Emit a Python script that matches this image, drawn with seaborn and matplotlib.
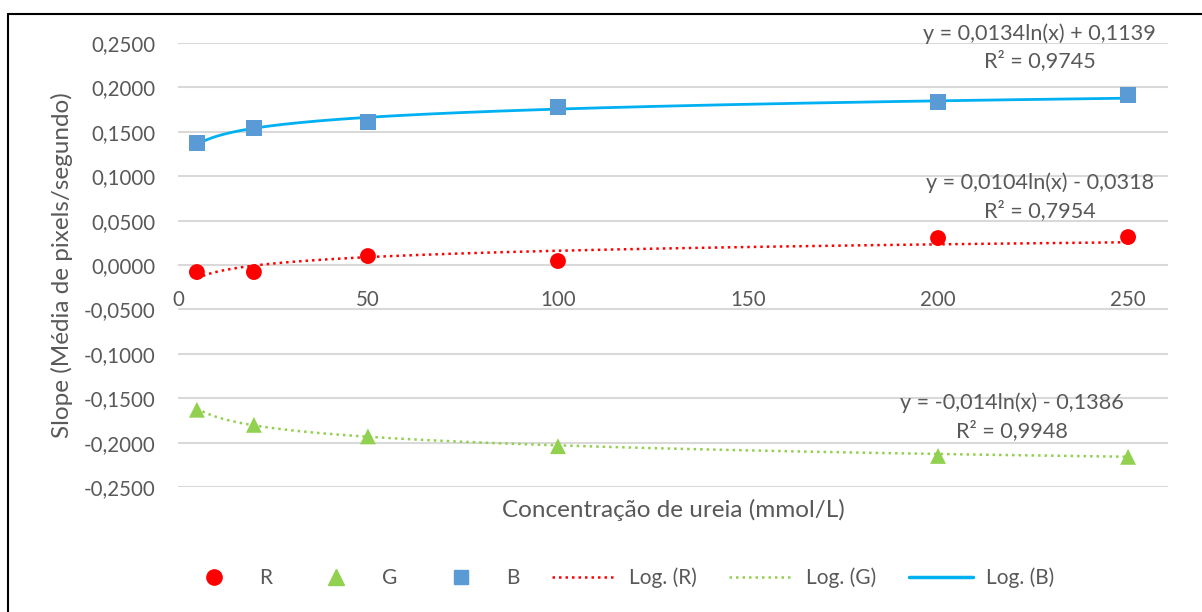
import numpy as np
import pandas as pd
import seaborn as sns
import matplotlib.pyplot as plt
from matplotlib.lines import Line2D

sns.set_theme(style="white")
plt.rcParams['font.family'] = ['Lato', 'DejaVu Sans']

# Urea concentration (mmol/L)
conc = [5, 20, 50, 100, 200, 250]
# Mean slope (pixels/second) per colour channel
slope_r = [-0.0079, -0.0079, 0.0101, 0.0045, 0.0304, 0.0315]
slope_g = [-0.1630, -0.1800, -0.1930, -0.2040, -0.2150, -0.2160]
slope_b = [0.1374, 0.1543, 0.1610, 0.1780, 0.1836, 0.1914]

# Logarithmic fit coefficients: y = a*ln(x) + b, and R²
fit_a = {"R": 0.0104, "G": -0.014, "B": 0.0134}
fit_b = {"R": -0.0318, "G": -0.1386, "B": 0.1139}
fit_r2 = {"R": 0.7954, "G": 0.9948, "B": 0.9745}
eq_text = {
    "R": "y = 0,0104ln(x) - 0,0318",
    "G": "y = -0,014ln(x) - 0,1386",
    "B": "y = 0,0134ln(x) + 0,1139",
}

yticks = [-0.25, -0.2, -0.15, -0.1, -0.05, 0.0, 0.05, 0.1, 0.15, 0.2, 0.25]
xticks = [0, 50, 100, 150, 200, 250]

TXT = "#595959"
C_R, C_G, C_B, C_BL = "#FF0000", "#92D050", "#5B9BD5", "#00B0F0"

points = pd.DataFrame({
    "conc": conc * 3,
    "slope": slope_r + slope_g + slope_b,
    "canal": ["R"] * 6 + ["G"] * 6 + ["B"] * 6,
})

xs = np.linspace(min(conc), max(conc), 300)
fits = pd.concat([
    pd.DataFrame({"conc": xs, "slope": fit_a[k] * np.log(xs) + fit_b[k], "canal": k})
    for k in ["R", "G", "B"]
])

fig = plt.figure(figsize=(12.02, 6.12), dpi=100)
ax = fig.add_axes([0.148, 0.2042, 0.9717 - 0.148, 0.9297 - 0.2042])

# horizontal gridlines
for t in yticks:
    ax.axhline(t, color="#D9D9D9", lw=1.5, zorder=0)

line_styles = {"R": (C_R, (0, (1, 1.6)), 1.8), "G": (C_G, (0, (1, 1.6)), 1.8), "B": (C_BL, "-", 2.0)}
for k in ["R", "G", "B"]:
    col, ls, lw = line_styles[k]
    sns.lineplot(data=fits[fits.canal == k], x="conc", y="slope", ax=ax,
                 color=col, linestyle=ls, lw=lw, zorder=2, legend=False)

marker_styles = {"R": (C_R, "o", 130), "G": (C_G, "^", 130), "B": (C_B, "s", 120)}
for k in ["R", "G", "B"]:
    col, mk, s = marker_styles[k]
    sns.scatterplot(data=points[points.canal == k], x="conc", y="slope", ax=ax,
                    color=col, marker=mk, s=s, edgecolor="none", zorder=3, legend=False)

ax.set_xlim(0, 260.5)
ax.set_ylim(-0.25, 0.25)
ax.set_yticks(yticks)
ax.set_yticklabels([f"{t:.4f}".replace(".", ",") for t in yticks], color=TXT, fontsize=14.8)
ax.set_xticks([])
for sp in ax.spines.values():
    sp.set_visible(False)
ax.tick_params(axis="y", length=0, pad=16)

# x tick labels sit just below the zero line
for t in xticks:
    ax.text(t, -0.028, str(t), ha="center", va="top", color=TXT, fontsize=14.8)

ax.set_xlabel("")
ax.set_ylabel("")
fig.text(673 / 1202, 1 - 510 / 612, "Concentração de ureia (mmol/L)", ha="center", va="center",
         color=TXT, fontsize=17.5)
fig.text(62 / 1202, 1 - 265 / 612, "Slope (Média de pixels/segundo)", ha="center", va="center",
         rotation=90, color=TXT, fontsize=17.5)

# trendline equations
eq_pos = {"B": (226.8, 0.2610, 0.2305), "R": (226.8, 0.0923, 0.0617), "G": (219.5, -0.1554, -0.1870)}
for k in ["B", "R", "G"]:
    x0, y1, y2 = eq_pos[k]
    ax.text(x0, y1, eq_text[k], ha="center", va="center", color=TXT, fontsize=15.6, clip_on=False)
    ax.text(x0, y2, f"R² = {fit_r2[k]:.4f}".replace(".", ","), ha="center", va="center",
            color=TXT, fontsize=15.6, clip_on=False)

handles = [
    Line2D([], [], ls="none", marker="o", color=C_R, markersize=11),
    Line2D([], [], ls="none", marker="^", color=C_G, markersize=11),
    Line2D([], [], ls="none", marker="s", color=C_B, markersize=10.5),
    Line2D([], [], color=C_R, ls=(0, (1, 1.6)), lw=1.8),
    Line2D([], [], color=C_G, ls=(0, (1, 1.6)), lw=1.8),
    Line2D([], [], color=C_BL, ls="-", lw=2.5),
]
labels = ["R", "G", "B", "Log. (R)", "Log. (G)", "Log. (B)"]
leg = fig.legend(handles, labels, loc="center", bbox_to_anchor=(618 / 1202, 1 - 578 / 612), ncol=6,
                 frameon=False, fontsize=15, handlelength=3.08, columnspacing=1.54,
                 handletextpad=0.63, labelcolor=TXT)

# outer chart border (top and left edges)
fig.add_artist(Line2D([8 / 1202, 1], [1 - 14 / 612, 1 - 14 / 612], color="black", lw=1.5,
                      transform=fig.transFigure))
fig.add_artist(Line2D([8 / 1202, 8 / 1202], [0, 1 - 14 / 612], color="black", lw=1.5,
                      transform=fig.transFigure))

fig.savefig("out.png", dpi=100, facecolor="white")
